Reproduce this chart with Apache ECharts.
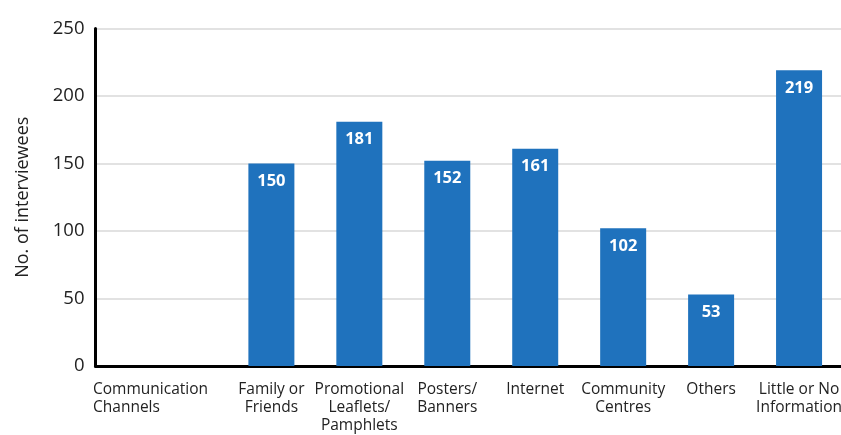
<!DOCTYPE html>
<html>
<head>
<meta charset="utf-8">
<script src="https://cdn.jsdelivr.net/npm/echarts@6/dist/echarts.min.js"></script>
<style>
  html, body { margin: 0; padding: 0; background: #fff; overflow: hidden; }
  /* the plot runs on past the right edge of the window */
  #chart { width: 890px; height: 435px; }
</style>
</head>
<body>
<div id="chart"></div>
<script>
// Channels through which interviewees heard about the service
const categories = [
  '',
  'Communication\nChannels',
  'Family or\nFriends',
  'Promotional\nLeaflets/\nPamphlets',
  'Posters/\nBanners',
  'Internet',
  'Community\nCentres',
  'Others',
  'Little or No\nInformation',
  ''
];
const interviewees = [null, null, 150, 181, 152, 161, 102, 53, 219, null];
const yTicks = { min: 0, max: 250, interval: 50 };
const yTitle = 'No. of interviewees';

const font = '"Open Sans", "Noto Sans", sans-serif';
const chart = echarts.init(document.getElementById('chart'), null, { renderer: 'canvas', width: 890, height: 435 });

chart.setOption({
  animation: false,
  backgroundColor: '#ffffff',
  grid: { left: 95.5, right: 0, top: 28.5, bottom: 69, containLabel: false },
  xAxis: {
    type: 'category',
    data: categories,
    boundaryGap: false,
    name: categories[1],
    nameLocation: 'start',
    nameGap: 2.5,
    nameTextStyle: {
      fontFamily: font, fontSize: 15.5, color: '#222',
      align: 'left', verticalAlign: 'top', lineHeight: 18,
      padding: [15, 0, 0, 0]
    },
    axisLine: { lineStyle: { color: '#000', width: 3 } },
    axisTick: { show: false },
    splitLine: { show: false },
    axisLabel: {
      interval: 0,
      margin: 15,
      fontFamily: font, fontSize: 15.5, color: '#222', lineHeight: 18,
      formatter: (v, i) => (i === 1 ? '' : v)
    }
  },
  yAxis: {
    type: 'value',
    min: yTicks.min, max: yTicks.max, interval: yTicks.interval,
    name: yTitle,
    nameLocation: 'middle',
    nameGap: 64,
    nameTextStyle: { fontFamily: font, fontSize: 18, color: '#222' },
    axisLine: { show: true, lineStyle: { color: '#000', width: 3 } },
    axisTick: { show: false },
    axisLabel: { margin: 11, fontFamily: font, fontSize: 18.5, color: '#222' },
    splitLine: { lineStyle: { color: '#d9d9d9', width: 1.5 } }
  },
  series: [{
    type: 'bar',
    data: interviewees,
    barWidth: 46,
    itemStyle: { color: '#1f72bd' },
    label: {
      show: true,
      position: 'insideTop',
      distance: 9,
      color: '#fff',
      fontFamily: font,
      fontWeight: 'bold',
      fontSize: 16.5
    }
  }]
});
</script>
</body>
</html>
